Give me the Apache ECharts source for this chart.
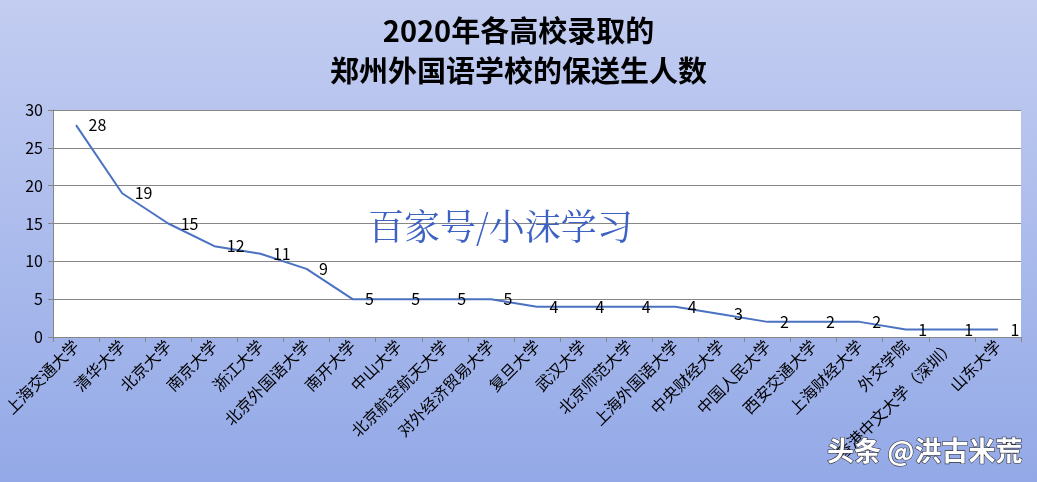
<!DOCTYPE html>
<html><head><meta charset="utf-8">
<script src="https://cdn.jsdelivr.net/npm/echarts@6/dist/echarts.min.js"></script>
<style>html,body{margin:0;padding:0;}#c{width:1037px;height:482px;}</style>
</head><body><div id="c"></div>
<script>
var categories = ['上海交通大学','清华大学','北京大学','南京大学','浙江大学','北京外国语大学','南开大学','中山大学','北京航空航天大学','对外经济贸易大学','复旦大学','武汉大学','北京师范大学','上海外国语大学','中央财经大学','中国人民大学','西安交通大学','上海财经大学','外交学院','香港中文大学（深圳）','山东大学'];
var values = [28,19,15,12,11,9,5,5,5,5,4,4,4,4,3,2,2,2,1,1,1];
var yTicks = [0,5,10,15,20,25,30];
var titleLines = ['2020年各高校录取的','郑州外国语学校的保送生人数'];

var chart = echarts.init(document.getElementById('c'));
var font = '"Noto Sans CJK SC", "Noto Sans", sans-serif';
chart.setOption({
  backgroundColor: new echarts.graphic.LinearGradient(0,0,0,1,[{offset:0,color:'#c3cdf1'},{offset:1,color:'#93a9e7'}]),
  animation:false,
  title:{
    text: titleLines.join('\n'), left:'center', top:6,
    textStyle:{fontFamily:font, fontWeight:'bold', fontSize:29, color:'#000', lineHeight:40}
  },
  grid:{left:53, right:16, top:110, bottom:145, show:true, backgroundColor:'#ffffff', borderWidth:0},
  xAxis:{
    type:'category', data:categories, boundaryGap:true,
    axisLine:{lineStyle:{color:'#868686'}},
    axisTick:{show:true, alignWithLabel:false, length:5, lineStyle:{color:'#868686'}},
    axisLabel:{rotate:45, interval:0, fontFamily:font, fontSize:16, color:'#000', margin:6}
  },
  yAxis:{
    type:'value', min:0, max:30, interval:5,
    axisLine:{show:true, lineStyle:{color:'#868686'}},
    axisTick:{show:true, length:5, lineStyle:{color:'#868686'}},
    axisLabel:{fontFamily:font, fontSize:16, color:'#000', margin:10,
      formatter:function(v){return yTicks.indexOf(v)>=0? String(v):'';}},
    splitLine:{lineStyle:{color:'#868686', width:1}}
  },
  series:[{
    type:'line', data:values, showSymbol:true, symbol:'circle', symbolSize:1,
    itemStyle:{color:'rgba(0,0,0,0)'},
    lineStyle:{color:'#4a72c1', width:2},
    label:{show:true, position:'right', distance:12, fontFamily:font, fontSize:16, color:'#000'},
    z:5
  }],
  graphic:[
    {type:'text', left:368, top:208, z:10, style:{text:'百家号/小沫学习', font:'36px "Noto Serif CJK SC", "DejaVu Serif", serif', fill:'#3d62c4'}},
    {type:'text', right:14, top:437, z:10, style:{text:'头条 @洪古米荒', font:'bold 27px '+font, fill:'#ffffff', stroke:'#333', lineWidth:1.2}}
  ]
});
</script></body></html>
